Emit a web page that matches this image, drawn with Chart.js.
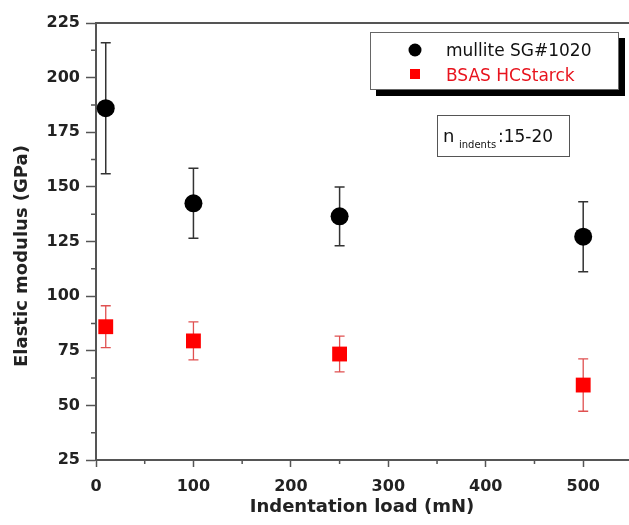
<!DOCTYPE html>
<html>
<head>
<meta charset="utf-8">
<script src="https://cdn.jsdelivr.net/npm/chart.js@4.4.0/dist/chart.umd.min.js"></script>
<style>
  body { margin: 0; background: #fff; overflow: hidden; }
  canvas { display: block; }
</style>
</head>
<body>
<canvas id="modulus-chart" width="629" height="525"></canvas>
<script>
// indentation load (mN)
const loads = [10, 100, 250, 500];
// mullite SG#1020
const mullite = [186, 142.5, 136.5, 127.2];
const mulliteErr = [30, 16, 13.5, 16];
// BSAS HCStarck
const bsas = [86, 79.5, 73.5, 59.3];
const bsasErr = [9.6, 8.7, 8.2, 12];

const seriesNames = ['mullite SG#1020', 'BSAS HCStarck'];
const yTicks = [25, 50, 75, 100, 125, 150, 175, 200, 225];
const xTicks = [0, 100, 200, 300, 400, 500];

const axisColor = '#555';
const fontFam = '"DejaVu Sans", "Liberation Sans", Arial, sans-serif';

const extras = {
    id: 'extras',
    beforeDatasetsDraw(chart) {
        const ctx = chart.ctx;
        const xs = chart.scales.x, ys = chart.scales.y;
        const sets = [
            {vals: mullite, err: mulliteErr, color: '#333', w: 1.5},
            {vals: bsas, err: bsasErr, color: '#e05050', w: 1.3}
        ];
        ctx.save();
        sets.forEach(s => {
            ctx.strokeStyle = s.color;
            ctx.lineWidth = s.w;
            s.vals.forEach((v, i) => {
                const px = xs.getPixelForValue(loads[i]);
                const top = ys.getPixelForValue(v + s.err[i]);
                const bot = ys.getPixelForValue(v - s.err[i]);
                ctx.beginPath();
                ctx.moveTo(px, top); ctx.lineTo(px, bot);
                ctx.moveTo(px - 5, top); ctx.lineTo(px + 5, top);
                ctx.moveTo(px - 5, bot); ctx.lineTo(px + 5, bot);
                ctx.stroke();
            });
        });
        ctx.restore();
    },
    afterDraw(chart) {
        const ctx = chart.ctx;
        const a = chart.chartArea;
        const xs = chart.scales.x, ys = chart.scales.y;
        ctx.save();
        // top frame line
        ctx.strokeStyle = axisColor;
        ctx.lineWidth = 2;
        ctx.beginPath();
        ctx.moveTo(a.left - 1, a.top); ctx.lineTo(a.right, a.top);
        ctx.stroke();
        // minor ticks
        ctx.lineWidth = 1.5;
        ctx.beginPath();
        for (let v = 37.5; v < 225; v += 25) {
            const py = ys.getPixelForValue(v);
            ctx.moveTo(a.left - 5, py); ctx.lineTo(a.left, py);
        }
        for (let v = 50; v < 547; v += 100) {
            const px = xs.getPixelForValue(v);
            ctx.moveTo(px, a.bottom); ctx.lineTo(px, a.bottom + 4);
        }
        ctx.stroke();

        // legend box with shadow
        ctx.fillStyle = '#000';
        ctx.fillRect(376, 38, 249, 58);
        ctx.fillStyle = '#fff';
        ctx.fillRect(370, 32, 248, 57);
        ctx.strokeStyle = '#666';
        ctx.lineWidth = 1;
        ctx.strokeRect(370.5, 32.5, 248, 57);
        ctx.fillStyle = '#000';
        ctx.beginPath();
        ctx.arc(415, 50, 6.5, 0, Math.PI * 2);
        ctx.fill();
        ctx.fillStyle = '#f00';
        ctx.fillRect(410, 69, 10, 10);
        ctx.font = '17px ' + fontFam;
        ctx.textBaseline = 'alphabetic';
        ctx.textAlign = 'left';
        ctx.fillStyle = '#111';
        ctx.fillText(seriesNames[0], 446, 56);
        ctx.fillStyle = '#e8141e';
        ctx.fillText(seriesNames[1], 446, 81);

        // n indents box
        ctx.strokeStyle = '#555';
        ctx.strokeRect(437.5, 115.5, 132, 41);
        ctx.fillStyle = '#111';
        ctx.font = '18px ' + fontFam;
        ctx.fillText('n', 443, 142);
        ctx.font = '10px ' + fontFam;
        ctx.fillText('indents', 459, 148);
        ctx.font = '17px ' + fontFam;
        ctx.fillText(':15-20', 498, 142);

        // axis titles
        ctx.fillStyle = '#222';
        ctx.font = 'bold 18px ' + fontFam;
        ctx.textAlign = 'center';
        ctx.fillText('Indentation load (mN)', 362, 512);
        ctx.translate(22, 256);
        ctx.rotate(-Math.PI / 2);
        ctx.textBaseline = 'middle';
        ctx.fillText('Elastic modulus (GPa)', 0, 0);
        ctx.restore();
    }
};

const canvas = document.querySelector('#modulus-chart');
const modulus_chart = new Chart(canvas, {
    type: 'scatter',
    data: {
        datasets: [
            {
                label: seriesNames[0],
                data: loads.map((x, i) => ({x: x, y: mullite[i]})),
                pointStyle: 'circle',
                radius: 9,
                backgroundColor: '#000',
                borderColor: '#000',
                borderWidth: 0,
            },
            {
                label: seriesNames[1],
                data: loads.map((x, i) => ({x: x, y: bsas[i]})),
                pointStyle: 'rect',
                radius: 10.5,
                backgroundColor: '#f00',
                borderColor: '#f00',
                borderWidth: 0,
            }
        ]
    },
    options: {
        responsive: false,
        animation: false,
        events: [],
        layout: { autoPadding: false, padding: { top: 23, right: 0, bottom: 0, left: 0 } },
        plugins: {
            legend: { display: false },
            tooltip: { enabled: false }
        },
        scales: {
            x: {
                type: 'linear',
                min: 0,
                max: 547,
                afterFit: s => { s.height = 65; s.paddingLeft = 0; s.paddingRight = 0; },
                afterBuildTicks: s => { s.ticks = xTicks.map(v => ({value: v})); },
                border: { color: axisColor, width: 2 },
                grid: { drawOnChartArea: false, tickLength: 7, tickColor: axisColor, tickWidth: 1.5 },
                ticks: {
                    padding: 10,
                    color: '#222',
                    font: { family: fontFam, size: 16, weight: 'bold' }
                }
            },
            y: {
                min: 25,
                max: 225,
                afterFit: s => { s.width = 96; s.paddingTop = 0; s.paddingBottom = 0; },
                afterBuildTicks: s => { s.ticks = yTicks.map(v => ({value: v})); },
                border: { color: axisColor, width: 2 },
                grid: { drawOnChartArea: false, tickLength: 10, tickColor: axisColor, tickWidth: 1.5 },
                ticks: {
                    padding: 6,
                    color: '#222',
                    font: { family: fontFam, size: 16, weight: 'bold' }
                }
            }
        }
    },
    plugins: [extras]
});
</script>
</body>
</html>
